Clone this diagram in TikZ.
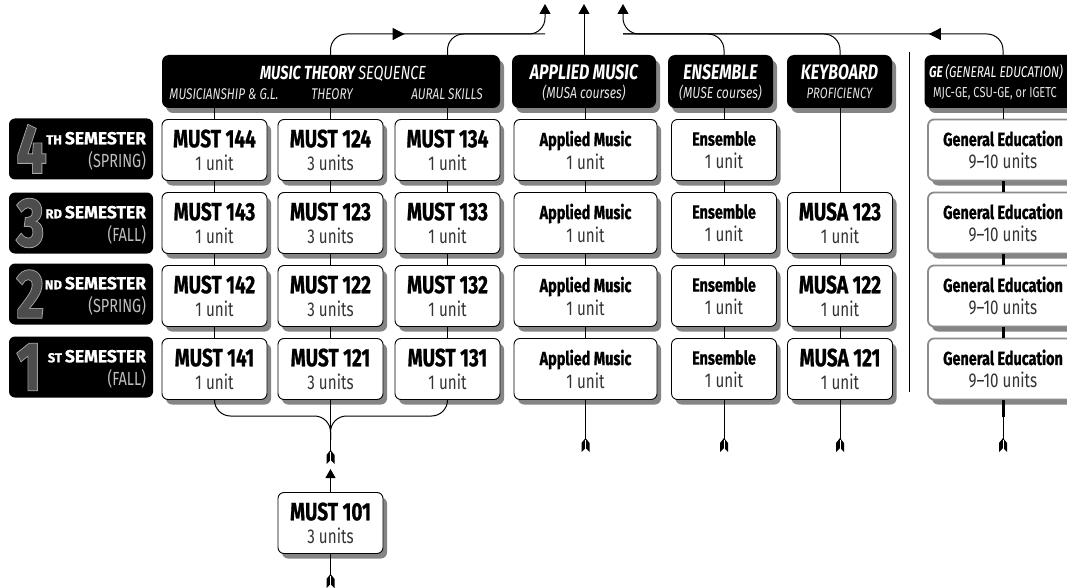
\documentclass[tikz,border=0pt]{standalone}
\usepackage{fontspec}
\setmainfont{Fira Sans}[FakeStretch=0.76, BoldFeatures={FakeBold=0.8}]
\newfontfamily\semfont{Fira Sans}[BoldFeatures={FakeBold=0.8}]
\newfontfamily\ringfont{Fira Sans}[FakeStretch=0.76, BoldFeatures={FakeBold=3.5}]
\usetikzlibrary{
  arrows.meta,%
  % drop shadows behind the boxes
  shadows,%
  decorations.markings,%
  calc
}
\tikzset{>=Triangle}
\tikzset{
  boxshadow/.style={drop shadow={shadow xshift=4pt, shadow yshift=-5pt, fill=black!60, opacity=.8}},
  course/.style={draw, fill=white, rounded corners=6pt, line width=0.9pt,
    minimum width=105pt, minimum height=61pt, inner sep=0pt, align=center, boxshadow},
  widecourse/.style={course, minimum width=143pt},
  gecourse/.style={course, draw=black!45, line width=1.8pt, minimum width=150pt},
  header/.style={fill=black, rounded corners=7pt, minimum height=53pt, inner sep=0pt, boxshadow},
  sembox/.style={fill=black, rounded corners=6pt, minimum width=144pt, minimum height=61pt, inner sep=0pt},
  bigdigit/.style={inner sep=0pt, text=black!70, font=\fontsize{68}{68}\selectfont\bfseries},
  semtitle/.style={anchor=base east, inner sep=0pt, text=white, font=\semfont\fontsize{17.5}{18}\selectfont\bfseries},
  semterm/.style={anchor=base east, inner sep=0pt, text=black!25, font=\fontsize{19}{19}\selectfont},
  hdtitle/.style={anchor=base, text=white, inner sep=0pt, font=\fontsize{21}{21}\selectfont\bfseries\itshape},
  hdsub/.style={anchor=base, text=black!10, inner sep=0pt, font=\fontsize{16}{16}\selectfont\itshape},
  link/.style={line width=0.9pt},
  gelink/.style={line width=3pt},
  busflow/.style={line width=1pt, rounded corners=16pt},
  upflow/.style={busflow, -{Triangle[length=10pt, width=11pt]}},
  midtip/.style={postaction={decorate, decoration={markings,
    mark=at position #1 with {\arrow{Triangle[length=12pt, width=12pt]}}}}},
  feather/.pic={
    \fill (-4,7) -- (-4,-2) -- (0,-7) -- (4,-2) -- (4,7) -- (0,3) -- cycle;
    \draw[white, line width=0.5pt] (0,-5) -- (0,5);
  }
}
\newcommand{\crs}[2]{{\fontsize{25}{22}\selectfont\bfseries #1}\\{\color{black!80}#2}}
\newcommand{\sml}[2]{{\fontsize{19}{22}\selectfont\bfseries #1}\\{\color{black!80}#2}}
\newcommand{\ringed}[1]{\rlap{\ringfont\bfseries\color{black!35}#1}#1}

\begin{document}
\begin{tikzpicture}[x=1pt, y=-1pt, font=\fontsize{20}{23}\selectfont]
  \useasboundingbox (0,0) rectangle (1067,588);
  \clip (0,0) rectangle (1067,588);

  % semester labels
  \foreach \n/\ord/\term/\y in {4/TH/SPRING/149, 3/RD/FALL/223, 2/ND/SPRING/294, 1/ST/FALL/367} {
    \node[sembox] (sem\n) at (81,\y) {};
    \node[bigdigit, anchor=west] (dig\n) at ([xshift=8pt]sem\n.west) {\ringed{\n}};
    \node[semtitle] (semt\n) at ([xshift=-7pt, yshift=-26pt]sem\n.north east) {{\fontsize{13}{14}\selectfont\ord}\,SEMESTER};
    \node[semterm] (semp\n) at ([xshift=-7pt, yshift=-49pt]sem\n.north east) {(\term)};
  }

  % headers
  \node[header, minimum width=338pt] (hdrtheory) at (331,81.5) {};
  \node[hdtitle, font=\fontsize{19}{19}\selectfont\bfseries\itshape] (thtitle) at (343,80) {MUSIC THEORY \mdseries SEQUENCE};
  \node[hdsub, font=\fontsize{15.5}{16}\selectfont\itshape] (thmus) at (224,100) {MUSICIANSHIP \& G.L.};
  \node[hdsub, font=\fontsize{15.5}{16}\selectfont\itshape] (ththeo) at (332,100) {THEORY};
  \node[hdsub, font=\fontsize{15.5}{16}\selectfont\itshape] (thaural) at (447,100) {AURAL SKILLS};
  \node[header, minimum width=144pt] (hdrapplied) at (584,81.5) {};
  \node[hdtitle] (amtitle) at (584,80) {APPLIED MUSIC};
  \node[hdsub] (amsub) at (584,99) {(MUSA courses)};
  \node[header, minimum width=105pt] (hdrensemble) at (720.5,81.5) {};
  \node[hdtitle] (entitle) at (720.5,80) {ENSEMBLE};
  \node[hdsub] (ensub) at (720.5,99) {(MUSE courses)};
  \node[header, minimum width=105pt] (hdrkeyboard) at (839.5,81.5) {};
  \node[hdtitle] (kytitle) at (839.5,80) {KEYBOARD};
  \node[hdsub, font=\fontsize{15}{16}\selectfont\itshape] (kysub) at (839.5,99) {PROFICIENCY};
  \node[header, minimum width=175pt] (hdrge) at (1012,81.5) {};
  \node[hdtitle, font=\fontsize{15.5}{16}\selectfont\bfseries\itshape] (getitle) at (996,78) {GE \mdseries(GENERAL EDUCATION)};
  \node[hdsub, font=\fontsize{14.5}{14.5}\selectfont] (gesub) at (995,97.5) {MJC-GE, CSU-GE, or IGETC};

  \draw[line width=0.9pt] (909,52) -- (909,392);

  % course boxes
  \foreach \r/\y in {4/150, 3/223, 2/296, 1/369} {
    \node[course] (must14\r) at (214.5,\y) {\crs{MUST 14\r}{1 unit}};
    \node[course] (must12\r) at (330.5,\y) {\crs{MUST 12\r}{3 units}};
    \node[course] (must13\r) at (447.5,\y) {\crs{MUST 13\r}{1 unit}};
    \node[widecourse] (am\r) at (585.5,\y) {\sml{Applied Music}{1 unit}};
    \node[course] (ens\r) at (724,\y) {\sml{Ensemble}{1 unit}};
    \node[gecourse] (ge\r) at (1003,\y) {\sml{General Education}{9--10 units}};
  }
  \foreach \r/\y in {3/223, 2/296, 1/369}
    \node[course] (musa12\r) at (840,\y) {\crs{MUSA 12\r}{1 unit}};
  \node[course] (must101) at (330.5,523) {\crs{MUST 101}{3 units}};

  % links within each column
  \foreach \c in {must14, must12, must13, am, ens}
    \draw[link] (hdrtheory.south -| \c4) -- (\c4);
  \foreach \a/\b in {4/3, 3/2, 2/1} {
    \foreach \c in {must14, must12, must13, am, ens}
      \draw[link] (\c\a) -- (\c\b);
    \draw[gelink] (ge\a) -- (ge\b);
  }
  \draw[link] (hdrkeyboard.south -| musa123) -- (musa123);
  \draw[link] (musa123) -- (musa122);
  \draw[link] (musa122) -- (musa121);
  \draw[link] (hdrge.south -| ge4) -- (ge4);

  % flow to the top
  \coordinate (busl) at (545,34);
  \coordinate (tipl) at (545,4);
  \coordinate (busr) at (623,34);
  \coordinate (tipr) at (623,4);
  \draw[upflow, midtip=88pt] (hdrtheory.north -| must124) |- (busl) -- (tipl);
  \draw[busflow] (hdrtheory.north -| must134) |- (busl);
  \draw[upflow] (hdrapplied.north) -- (hdrapplied.north |- tipl);
  \draw[upflow, midtip=88pt] (hdrge.north -| ge4) |- (busr) -- (tipr);
  \draw[busflow] (hdrkeyboard.north -| musa123) |- (busr);
  \draw[busflow] (hdrensemble.north -| ens4) |- (busr);

  % flow from below
  \coordinate (merge) at (330.5,440);
  \draw[busflow] (must141.south) |- (must121.south |- 0,416) -- (merge);
  \draw[busflow] (must131.south) |- (must121.south |- 0,416) -- (merge);
  \coordinate (tail121) at (330.5,457);
  \draw[link] (must121) -- (tail121);
  \pic at (tail121) {feather};
  \coordinate (tip101) at (330.5,469);
  \draw[link, -{Triangle[length=9pt, width=10pt]}] (must101) -- (tip101);
  \coordinate (tail101) at (330.5,581);
  \draw[link] (must101) -- (tail101);
  \pic at (tail101) {feather};
  \draw[gelink] (ge1) -- (ge1.south |- 0,417);
  \foreach \c in {am1, ens1, musa121, ge1} {
    \coordinate (tail\c) at (\c.south |- 0,445);
    \draw[link] (\c) -- (tail\c);
    \pic at (tail\c) {feather};
  }
\end{tikzpicture}
\end{document}
